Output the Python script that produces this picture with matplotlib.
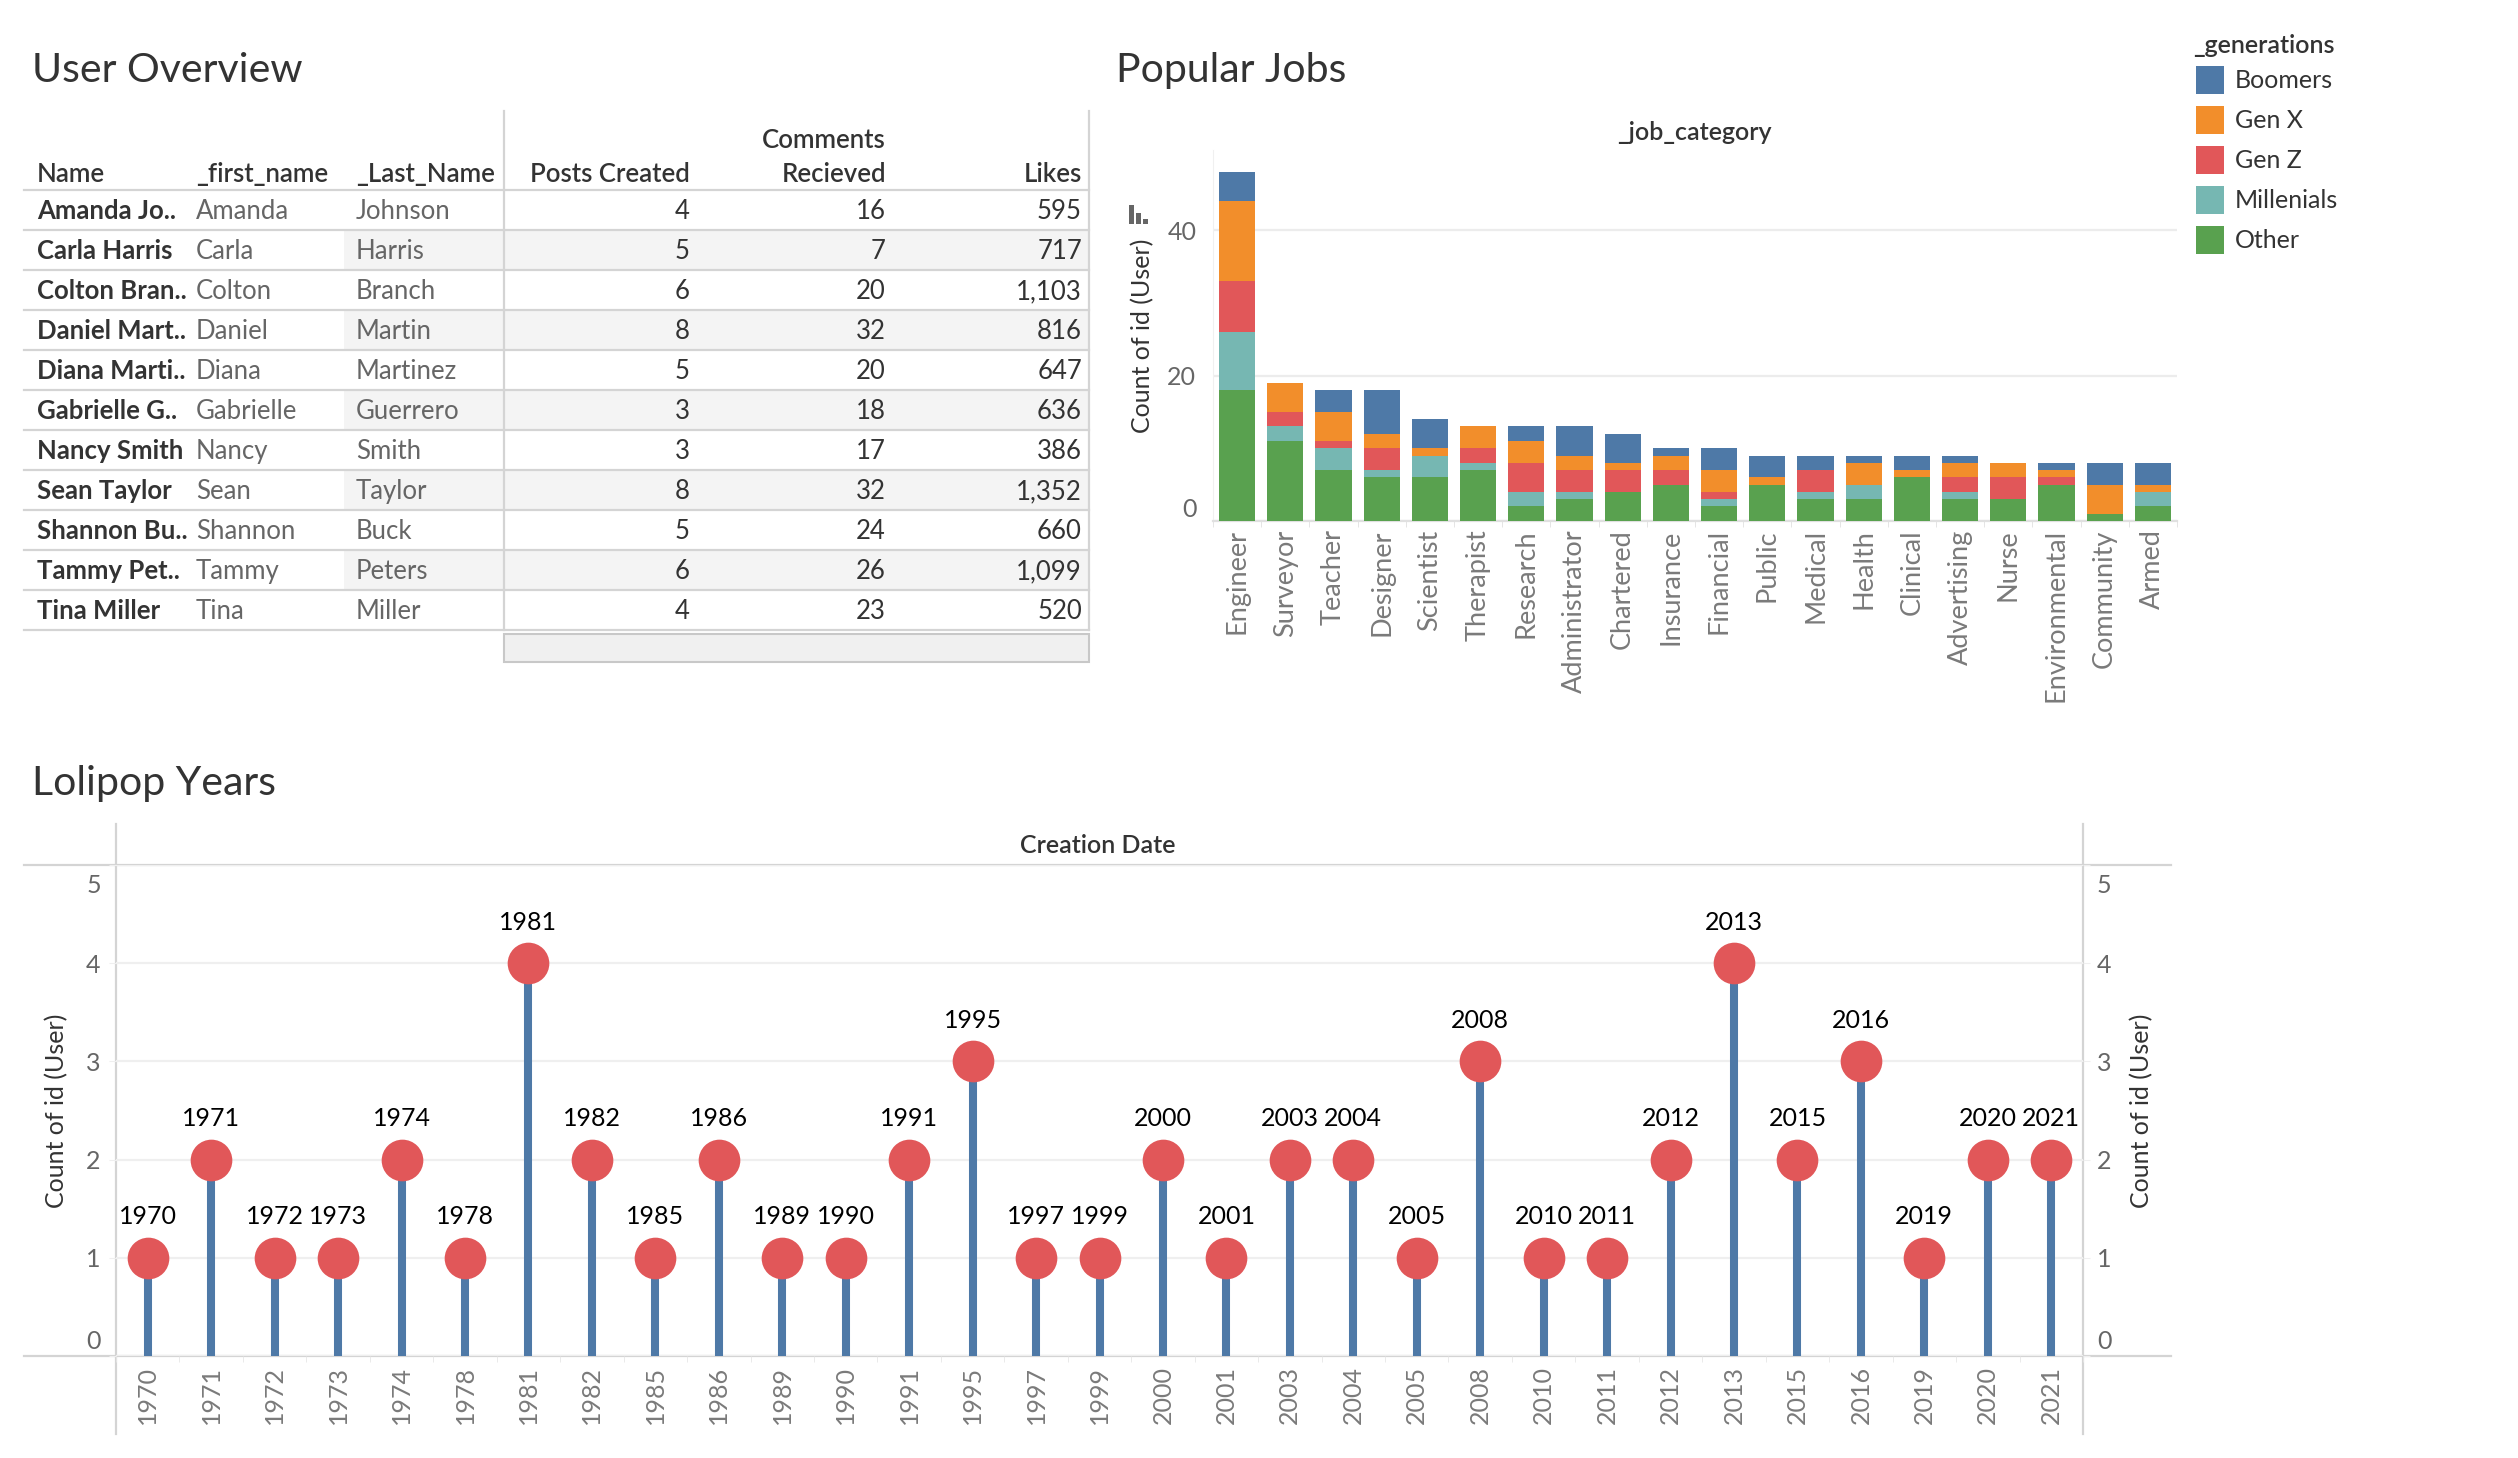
import matplotlib
matplotlib.use('Agg')
import matplotlib.pyplot as plt
from matplotlib.patches import Rectangle
import numpy as np

plt.rcParams['font.family'] = ['Lato', 'DejaVu Sans']

W, H = 2518, 1458

# ---- User Overview table
names = ['Amanda Jo..', 'Carla Harris', 'Colton Bran..', 'Daniel Mart..', 'Diana Marti..',
         'Gabrielle G..', 'Nancy Smith', 'Sean Taylor', 'Shannon Bu..', 'Tammy Pet..', 'Tina Miller']
first_names = ['Amanda', 'Carla', 'Colton', 'Daniel', 'Diana', 'Gabrielle', 'Nancy', 'Sean',
               'Shannon', 'Tammy', 'Tina']
last_names = ['Johnson', 'Harris', 'Branch', 'Martin', 'Martinez', 'Guerrero', 'Smith', 'Taylor',
              'Buck', 'Peters', 'Miller']
posts_created = [4, 5, 6, 8, 5, 3, 3, 8, 5, 6, 4]
comments_received = [16, 7, 20, 32, 20, 18, 17, 32, 24, 26, 23]
likes = [595, 717, 1103, 816, 647, 636, 386, 1352, 660, 1099, 520]

# ---- Popular Jobs (stacked by generation)
job_categories = ['Engineer', 'Surveyor', 'Teacher', 'Designer', 'Scientist', 'Therapist',
                  'Research', 'Administrator', 'Chartered', 'Insurance', 'Financial', 'Public',
                  'Medical', 'Health', 'Clinical', 'Advertising', 'Nurse', 'Environmental',
                  'Community', 'Armed']
other = [18, 11, 7, 6, 6, 7, 2, 3, 4, 5, 2, 5, 3, 3, 6, 3, 3, 5, 1, 2]
millenials = [8, 2, 3, 1, 3, 1, 2, 1, 0, 0, 1, 0, 1, 2, 0, 1, 0, 0, 0, 2]
gen_z = [7, 2, 1, 3, 0, 2, 4, 3, 3, 2, 1, 0, 3, 0, 0, 2, 3, 1, 0, 0]
gen_x = [11, 4, 4, 2, 1, 3, 3, 2, 1, 2, 3, 1, 0, 3, 1, 2, 2, 1, 4, 1]
boomers = [4, 0, 3, 6, 4, 0, 2, 4, 4, 1, 3, 3, 2, 1, 2, 1, 0, 1, 3, 3]

# ---- Lolipop Years
years = [1970, 1971, 1972, 1973, 1974, 1978, 1981, 1982, 1985, 1986, 1989, 1990, 1991, 1995,
         1997, 1999, 2000, 2001, 2003, 2004, 2005, 2008, 2010, 2011, 2012, 2013, 2015, 2016,
         2019, 2020, 2021]
year_counts = [1, 2, 1, 1, 2, 1, 4, 2, 1, 2, 1, 1, 2, 3, 1, 1, 2, 1, 2, 2, 1, 3, 1, 1, 2, 4,
               2, 3, 1, 2, 2]

BLUE, ORANGE, RED, TEAL, GREEN = '#4e79a7', '#f28e2b', '#e15759', '#76b7b2', '#59a14f'
DARK, GREY, LIGHT, LINE = '#333333', '#666666', '#7a7a7a', '#d4d4d4'
FS = 18
TFS = 18.5  # table text
TITLE = 29.5

fig = plt.figure(figsize=(W / 100, H / 100), dpi=100)


def px_axes(x0, y0, x1, y1):
    a = fig.add_axes([x0 / W, 1 - y1 / H, (x1 - x0) / W, (y1 - y0) / H])
    a.set_facecolor('none')
    return a


bg = fig.add_axes([0, 0, 1, 1])
bg.set_xlim(0, W)
bg.set_ylim(H, 0)
bg.axis('off')

# titles
bg.text(32, 82, 'User Overview', fontsize=TITLE, color=DARK, va='baseline')
bg.text(1116, 82, 'Popular Jobs', fontsize=TITLE, color=DARK, va='baseline')
bg.text(32, 795, 'Lolipop Years', fontsize=TITLE, color=DARK, va='baseline')

# ---- table
top, rh = 190, 40
n = len(names)
for i in range(n):
    if i % 2 == 1:
        y0 = top + rh * i
        bg.add_patch(Rectangle((344, y0), 160, rh, color='#f4f4f4', lw=0))
        bg.add_patch(Rectangle((505, y0), 584, rh, color='#f4f4f4', lw=0))
for i in range(n + 1):
    bg.plot([24, 1089], [top + rh * i] * 2, color=LINE, lw=1.6)
bg.plot([504, 504], [111, top + rh * n], color=LINE, lw=1.6)
bg.plot([1089, 1089], [111, top + rh * n], color=LINE, lw=1.6)
bg.add_patch(Rectangle((504, 634), 585, 28, facecolor='#f0f0f0', edgecolor='#c8c8c8', lw=1.5))

hb = 182
hdr = dict(fontsize=TFS, color=DARK, weight='semibold', va='baseline')
bg.text(37, hb, 'Name', **hdr)
bg.text(196, hb, '_first_name', **hdr)
bg.text(356, hb, '_Last_Name', **hdr)
bg.text(690, hb, 'Posts Created', ha='right', **hdr)
bg.text(886, 148, 'Comments', ha='right', **hdr)
bg.text(886, hb, 'Recieved', ha='right', **hdr)
bg.text(1082, hb, 'Likes', ha='right', **hdr)

for i in range(n):
    yb = top + rh * i + 29
    bg.text(37, yb, names[i], fontsize=TFS, color=DARK, weight='bold', va='baseline')
    bg.text(196, yb, first_names[i], fontsize=TFS, color=GREY, va='baseline')
    bg.text(356, yb, last_names[i], fontsize=TFS, color=GREY, va='baseline')
    bg.text(690, yb, f'{posts_created[i]:,}', fontsize=TFS, color=DARK, va='baseline', ha='right')
    bg.text(886, yb, f'{comments_received[i]:,}', fontsize=TFS, color=DARK, va='baseline', ha='right')
    bg.text(1082, yb, f'{likes[i]:,}', fontsize=TFS, color=DARK, va='baseline', ha='right')

# ---- Popular Jobs
bg.text(1694, 140, '_job_category', fontsize=FS, color=DARK, weight='semibold', ha='center', va='baseline')
ax = px_axes(1213, 150, 2177, 521)
x = np.arange(len(job_categories))
series = [('Other', other, GREEN), ('Millenials', millenials, TEAL), ('Gen Z', gen_z, RED),
          ('Gen X', gen_x, ORANGE), ('Boomers', boomers, BLUE)]
bottom = np.zeros(len(x))
for label, vals, col in series:
    ax.bar(x, vals, bottom=bottom, width=0.75, color=col, label=label, zorder=3)
    bottom += np.array(vals)
ax.set_xlim(-0.5, len(x) - 0.5)
ax.set_ylim(0, 51)
ax.set_yticks([0, 20, 40])
ax.yaxis.grid(True, color='#ececec', lw=1.6)
ax.set_xticks(x)
ax.set_xticklabels(job_categories, rotation=90, fontsize=19.5, color=LIGHT)
ax.set_xticks(np.arange(-0.5, len(x), 1), minor=True)
ax.tick_params(axis='x', which='major', length=0, pad=6)
ax.tick_params(axis='x', which='minor', length=4, color='#e0e0e0')
ax.tick_params(axis='y', length=0, labelsize=FS, labelcolor=GREY, pad=12)
ax.get_yticklabels()[0].set_va('bottom')
for s in ['top', 'right']:
    ax.spines[s].set_visible(False)
ax.spines['left'].set_color('#f0f0f0')
ax.spines['bottom'].set_color('#e0e0e0')
ax.spines['bottom'].set_linewidth(1.6)
ax.set_ylabel('Count of id (User)', fontsize=FS, color=DARK)
ax.yaxis.set_label_coords(-0.061, 0.5)
# sort icon next to axis title
for (x0, h) in [(1129, 19), (1136, 11), (1143, 5)]:
    bg.add_patch(Rectangle((x0, 224 - h), 5, h, color=GREY, lw=0))

# legend
bg.text(2193, 53, '_generations', fontsize=FS, color=DARK, weight='semibold', va='baseline')
for k, (label, col) in enumerate([('Boomers', BLUE), ('Gen X', ORANGE), ('Gen Z', RED),
                                  ('Millenials', TEAL), ('Other', GREEN)]):
    bg.add_patch(Rectangle((2196, 66 + 40 * k), 28, 28, color=col, lw=0))
    bg.text(2235, 80 + 40 * k, label, fontsize=FS, color=DARK, va='center')

# ---- Lolipop Years
bg.text(1098, 845, 'Creation Date', fontsize=FS, color=DARK, weight='semibold', ha='center', va='center')
bg.plot([24, 2171], [865, 865], color=LINE, lw=1.6)
bg.plot([24, 2171], [1356, 1356], color=LINE, lw=1.6)
bg.plot([116, 116], [824, 1434], color=LINE, lw=1.6)
bg.plot([2083, 2083], [824, 1434], color=LINE, lw=1.6)

lx = px_axes(116, 865, 2083, 1356)
xi = np.arange(len(years))
lx.vlines(xi, 0, year_counts, color=BLUE, lw=5.8, zorder=3)
lx.plot(xi, year_counts, 'o', ms=30, color=RED, mew=0, zorder=4, clip_on=False)
for xv, c, yr in zip(xi, year_counts, years):
    lx.annotate(str(yr), (xv, c), xytext=(0, 24), textcoords='offset points',
                ha='center', va='baseline', fontsize=FS, color='black')
lx.set_xlim(-0.5, len(years) - 0.5)
lx.set_ylim(0, 5)
lx.set_yticks(range(6))
lx.yaxis.grid(True, color='#efefef', lw=1.6)
lx.set_xticks(xi)
lx.set_xticklabels([str(y) for y in years], rotation=90, fontsize=FS, color=LIGHT)
lx.set_xticks(np.arange(-0.5, len(years), 1), minor=True)
lx.tick_params(axis='x', which='major', length=0, pad=7)
lx.tick_params(axis='x', which='minor', length=4, color='#e6e6e6')
lx.tick_params(axis='y', length=5, color='#efefef', labelleft=False)
for s in lx.spines.values():
    s.set_visible(False)
lx.set_ylabel('Count of id (User)', fontsize=FS, color=DARK)
lx.yaxis.set_label_coords(-0.0244, 0.5)

rx = lx.twinx()
rx.set_ylim(0, 5)
rx.set_yticks(range(6))
rx.tick_params(axis='y', length=5, color='#efefef', labelright=False)
for s in rx.spines.values():
    s.set_visible(False)
rx.set_ylabel('Count of id (User)', fontsize=FS, color=DARK)
rx.yaxis.set_label_coords(1.0239, 0.5)

# value-axis labels on both sides, end labels nudged inside like Tableau
for v in range(6):
    dy = -13.5 if v == 5 else (12 if v == 0 else 0)
    lx.annotate(str(v), (0, v), xycoords=('axes fraction', 'data'), xytext=(-11, dy),
                textcoords='offset points', ha='right', va='center_baseline',
                fontsize=FS, color=GREY)
    lx.annotate(str(v), (1, v), xycoords=('axes fraction', 'data'), xytext=(10, dy),
                textcoords='offset points', ha='left', va='center_baseline',
                fontsize=FS, color=GREY)

fig.savefig('out.png', dpi=100)
